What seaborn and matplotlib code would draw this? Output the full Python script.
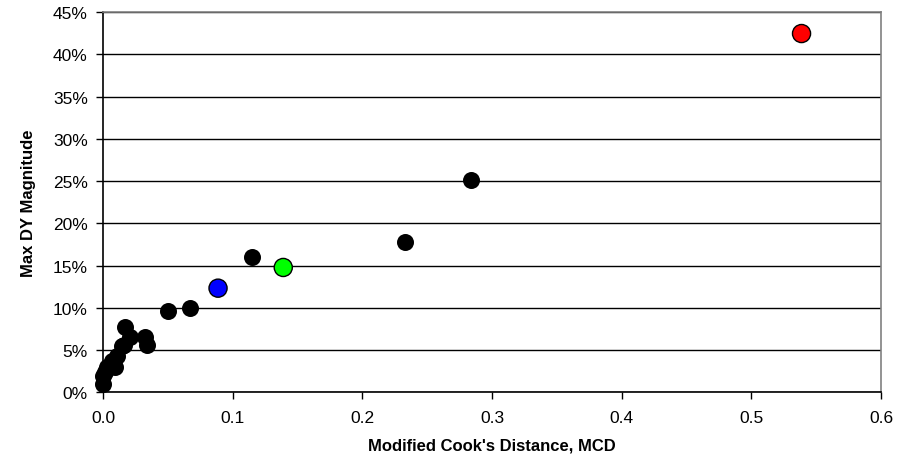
import numpy as np
import matplotlib
matplotlib.use("Agg")
import matplotlib.pyplot as plt
import seaborn as sb
import pandas as pd
from matplotlib.ticker import PercentFormatter, MultipleLocator

# Valeurs
mcd = [0.0003, 0.0003, 0.003, 0.0015, 0.0067, 0.0092, 0.0105, 0.0144, 0.0164,
       0.017, 0.021, 0.032, 0.034, 0.050, 0.067, 0.115, 0.233, 0.284]
max_dy = [0.98, 1.97, 2.96, 2.4, 3.7, 2.96, 4.3, 5.5, 5.6,
          7.7, 6.5, 6.5, 5.6, 9.67, 9.95, 15.95, 17.77, 25.15]

mcd_col = [0.0887, 0.139, 0.5387]
dy_col = [12.32, 14.77, 42.45]
couleurs = ["#0000ff", "#00ff00", "#ff0000"]

df = pd.DataFrame({"mcd": mcd, "dy": max_dy})
df_col = pd.DataFrame({"mcd": mcd_col, "dy": dy_col, "c": ["b", "g", "r"]})

sb.set_style("white")
plt.rcParams["font.family"] = ["Liberation Sans", "DejaVu Sans"]

fig = plt.figure(figsize=(8.99, 4.64), dpi=100)
ax = fig.add_axes([0.1146, 0.1524, 0.8654, 0.8196])

ax.yaxis.set_major_locator(MultipleLocator(5))
ax.grid(axis="y", color="black", linewidth=1.0, zorder=0)
ax.set_axisbelow(True)

sb.scatterplot(data=df, x="mcd", y="dy", ax=ax, color="black", s=150,
               edgecolor="black", linewidth=0, zorder=3, clip_on=False)
sb.scatterplot(data=df_col, x="mcd", y="dy", hue="c", palette=couleurs, ax=ax,
               s=170, edgecolor="black", linewidth=1.0, legend=False, zorder=4,
               clip_on=False)

ax.set_xlim(0, 0.6)
ax.set_ylim(0, 45)
ax.set_xticks(np.arange(0, 0.61, 0.1))
ax.set_xticklabels(["0.0", "0.1", "0.2", "0.3", "0.4", "0.5", "0.6"])
ax.yaxis.set_major_formatter(PercentFormatter(decimals=0))

ax.tick_params(axis="both", direction="out", length=5, width=1, color="black",
               labelcolor="black", labelsize=12.5, pad=6, left=True, bottom=True)
ax.tick_params(axis="x", pad=8)

for s in ["left", "bottom"]:
    ax.spines[s].set_color("black")
    ax.spines[s].set_linewidth(1.2)
for s in ["top", "right"]:
    ax.spines[s].set_color("#808080")
    ax.spines[s].set_linewidth(1.2)

ax.set_xlabel("Modified Cook's Distance, MCD", fontsize=12, fontweight="bold",
              labelpad=9, color="black")
ax.set_ylabel("Max DY Magnitude", fontsize=12, fontweight="bold",
              labelpad=12, color="black")

fig.savefig("out.png", dpi=100)
